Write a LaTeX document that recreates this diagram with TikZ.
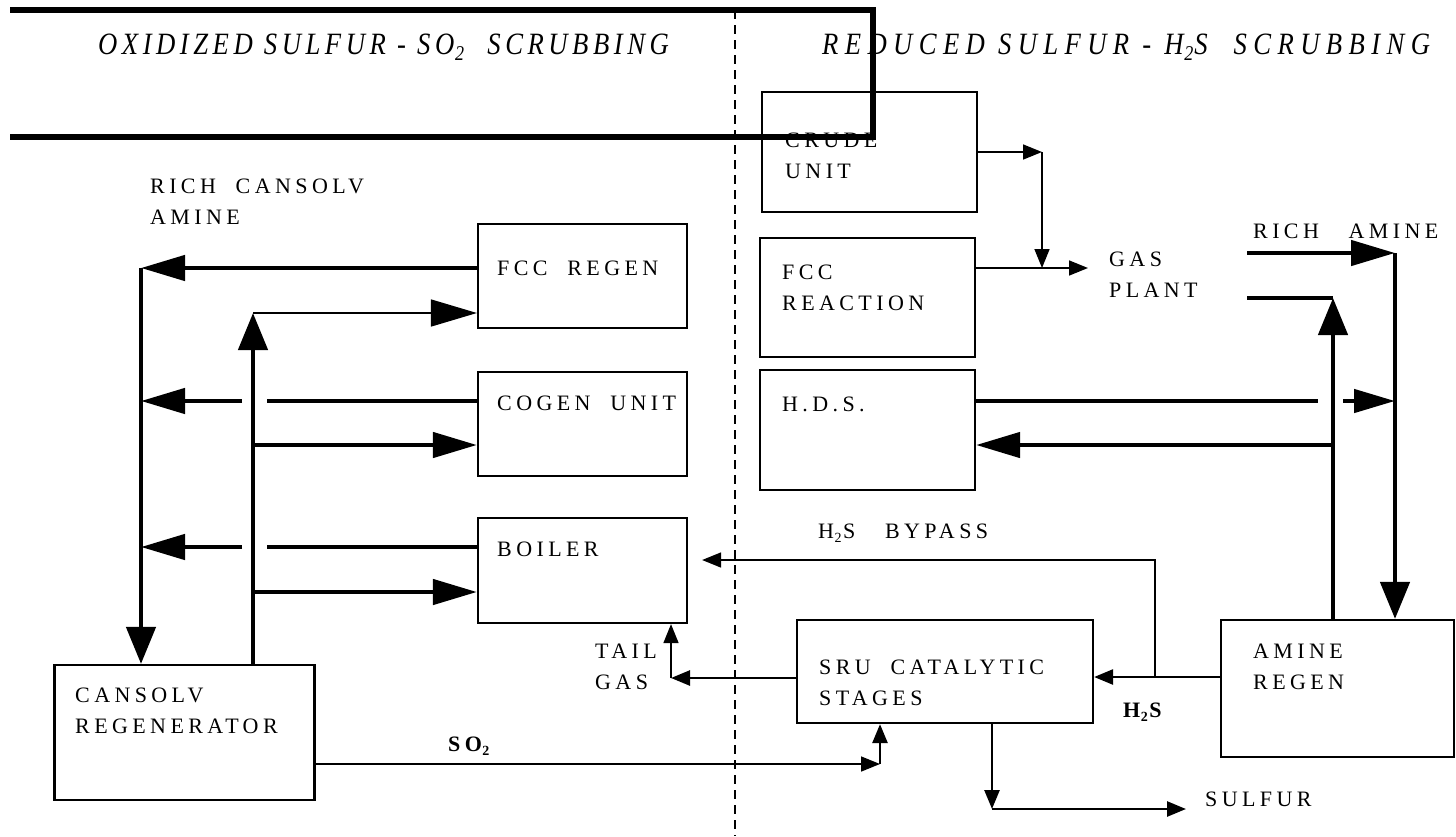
\documentclass[tikz,border=0pt]{standalone}
\usepackage{fontspec}
\setmainfont{Liberation Serif}
\newfontfamily\lblfont[LetterSpace=20]{Liberation Serif}
\newfontfamily\ttlfont[LetterSpace=17]{Liberation Serif}
\newfontfamily\ttlwidefont[LetterSpace=24]{Liberation Serif}
\usetikzlibrary{arrows.meta}
\newcommand\lowtwo{\kern0.5pt\raisebox{-0.35ex}{\fontsize{14}{14}\selectfont 2}\kern1.5pt}
\newcommand\ttltwo{\kern1pt\raisebox{-0.45ex}{\fontsize{21}{21}\selectfont 2}\kern1pt}
\newcommand\narrowtext[1]{\scalebox{0.86}[1]{#1}}
\tikzset{
  unitbox/.style={draw, line width=2.2pt, inner sep=0pt},
  txt/.style={font=\lblfont\fontsize{22}{31}\selectfont, align=left, anchor=west, inner sep=0pt},
  ttl/.style={font=\ttlfont\itshape\fontsize{31}{34}\selectfont, anchor=west, inner sep=0pt},
  ttlwide/.style={font=\ttlwidefont\itshape\fontsize{31}{34}\selectfont, anchor=west, inner sep=0pt},
  heavy/.style={line width=6pt},
  thickline/.style={line width=4.6pt},
  medline/.style={line width=2.6pt},
  thinline/.style={line width=1.6pt},
  bigH/.style={-{Triangle[length=44pt,width=25pt]}},
  bigV/.style={-{Triangle[length=37pt,width=29pt]}},
  bigthin/.style={-{Triangle[length=46pt,width=27pt]}},
  smalltip/.style={-{Triangle[length=19pt,width=15pt]}},
  divider/.style={line width=1.8pt, dash pattern=on 9pt off 6pt},
}
\begin{document}
\begin{tikzpicture}[x=1pt,y=-1pt]
\useasboundingbox (0,0) rectangle (1456,836);

% frame and divider
\coordinate (tl) at (10,10);
\coordinate (tr) at (873,10);
\coordinate (br) at (873,137);
\coordinate (bl) at (10,137);
\draw[heavy] (tl) -- (tr) -- (br) -- (bl);
\coordinate (dtop) at (735,10);
\coordinate (dbot) at (735,836);
\draw[divider] (dtop) -- (dbot);

% titles
\node[ttl] (t1) at (98,47) {\narrowtext{OXIDIZED SULFUR - SO\ttltwo\ \ SCRUBBING}};
\node[ttlwide] (t2) at (822,47) {\narrowtext{REDUCED SULFUR - H\ttltwo S\ \ SCRUBBING}};

% boxes
\node[unitbox, minimum width=215pt, minimum height=120pt] (crude) at (869.5,152) {};
\node[unitbox, minimum width=215pt, minimum height=119pt] (fccr) at (867.5,297.5) {};
\node[unitbox, minimum width=215pt, minimum height=120pt] (hds) at (867.5,430) {};
\node[unitbox, minimum width=209pt, minimum height=104pt] (fccregen) at (582.5,276) {};
\node[unitbox, minimum width=209pt, minimum height=104pt] (cogen) at (582.5,424) {};
\node[unitbox, minimum width=209pt, minimum height=105pt] (boiler) at (582.5,570.5) {};
\node[unitbox, minimum width=260pt, minimum height=135pt] (cansolv) at (184.5,732.5) {};
\node[unitbox, minimum width=296pt, minimum height=103pt] (sru) at (945,671.5) {};
\node[unitbox, minimum width=233pt, minimum height=137pt] (amine) at (1337.5,688.5) {};

% box texts
\node[txt] (crudet) at (785,156) {CRUDE\\UNIT};
\node[txt] (fccrt) at (782,288) {FCC\\REACTION};
\node[txt] (hdst) at (782,404) {H.D.S.};
\node[txt] (fccregent) at (497,268) {FCC\ \ REGEN};
\node[txt] (cogent) at (497,403) {COGEN\ \ UNIT};
\node[txt] (boilert) at (497,549) {BOILER};
\node[txt] (cansolvt) at (75,711) {CANSOLV\\REGENERATOR};
\node[txt] (srut) at (819,683) {SRU\ \ CATALYTIC\\STAGES};
\node[txt] (aminet) at (1253,667) {AMINE\\REGEN};

% free labels
\node[txt] (richc) at (150,202) {RICH\ \ CANSOLV\\AMINE};
\node[txt] (gasp) at (1109,275) {GAS\\PLANT};
\node[txt] (richa) at (1253,231) {RICH\ \ \ AMINE};
\node[txt] (bypass) at (818,533) {H\lowtwo S\ \ \ BYPASS};
\node[txt] (tail) at (595,667) {TAIL\\GAS};
\node[txt, font=\lblfont\bfseries\fontsize{22}{24}\selectfont] (h2s) at (1123,712) {H\lowtwo S};
\node[txt, font=\lblfont\bfseries\fontsize{22}{24}\selectfont] (so2) at (448,746) {SO\lowtwo};
\node[txt] (sulfur) at (1205,799) {SULFUR};

% left side: return lines to the CANSOLV bus
\coordinate (L1) at (141,268);
\coordinate (L2) at (141,401);
\coordinate (L3) at (141,547);
\coordinate (g1l) at (242,401);
\coordinate (g1r) at (267,401);
\coordinate (g2l) at (242,547);
\coordinate (g2r) at (267,547);
\draw[thickline, bigH] (fccregen.west |- L1) -- (L1);
\draw[thickline] (cogen.west |- L2) -- (g1r);
\draw[thickline, bigH] (g1l) -- (L2);
\draw[thickline] (boiler.west |- L3) -- (g2r);
\draw[thickline, bigH] (g2l) -- (L3);
\draw[thickline, bigV] (L1) -- (cansolv.north -| L1);

% lean supply bus
\coordinate (U0) at (253,313);
\coordinate (U1) at (253,445);
\coordinate (U2) at (253,592);
\draw[thickline, bigV] (cansolv.north -| U0) -- (U0);
\draw[thinline, bigthin] (U0) -- (fccregen.west |- U0);
\draw[thickline, bigH] (U1) -- (cogen.west |- U1);
\draw[thickline, bigH] (U2) -- (boiler.west |- U2);

% SO2 to SRU
\coordinate (S1) at (880,764);
\draw[thinline, smalltip] (cansolv.east |- S1) -- (S1);
\draw[medline, smalltip] (S1) -- (sru.south -| S1);

% tail gas
\coordinate (T1) at (671,678);
\draw[medline, smalltip] (sru.west |- T1) -- (T1);
\draw[thinline, smalltip] (T1) -- (boiler.south -| T1);

% H2S and bypass
\coordinate (H1) at (1155,677);
\coordinate (H2) at (1155,560);
\draw[medline, smalltip] (amine.west |- H1) -- (sru.east |- H1);
\draw[thinline, smalltip, shorten >=14pt] (H1) -- (H2) -- (boiler.east |- H2);

% sulfur
\coordinate (SF1) at (992,809);
\coordinate (SF2) at (1186,809);
\draw[medline, smalltip] (sru.south -| SF1) -- (SF1);
\draw[medline, smalltip] (SF1) -- (SF2);

% gas plant feeds
\coordinate (C1) at (1042,152);
\coordinate (C2) at (1042,268);
\coordinate (GP) at (1088,268);
\draw[thinline, smalltip] (crude.east |- C1) -- (C1);
\draw[thinline, smalltip] (C1) -- (C2);
\draw[thinline, smalltip] (fccr.east |- C2) -- (GP);

% rich amine loop
\coordinate (R0) at (1247,253);
\coordinate (R1) at (1395,253);
\draw[thickline, bigH] (R0) -- (R1);
\draw[thickline, bigV] (R1) -- (amine.north -| R1);
\coordinate (Q0) at (1247,298);
\coordinate (Q1) at (1333,298);
\draw[thickline, bigV] (amine.north -| Q1) -- (Q1);
\draw[thickline] (Q1) -- (Q0);

% H.D.S. loop
\coordinate (D1) at (1318,401);
\coordinate (D2) at (1343,401);
\coordinate (D3) at (1395,401);
\coordinate (D4) at (1333,445);
\draw[thickline] (hds.east |- D1) -- (D1);
\draw[thickline, -{Triangle[length=41pt,width=23pt]}] (D2) -- (D3);
\draw[thickline, bigH] (D4) -- (hds.east |- D4);
\end{tikzpicture}
\end{document}
